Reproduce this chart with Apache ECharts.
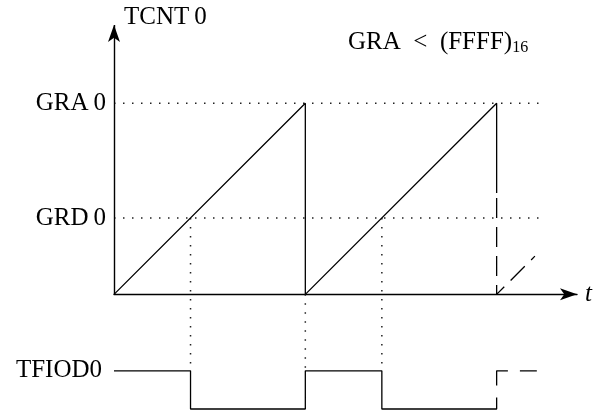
<!DOCTYPE html>
<html>
<head>
<meta charset="utf-8">
<script src="https://cdn.jsdelivr.net/npm/echarts@6/dist/echarts.min.js"></script>
<style>
  html, body { margin: 0; padding: 0; background: #fff; }
  #chart { width: 599px; height: 414px; }
</style>
</head>
<body>
<div id="chart"></div>
<script>
// ---- data (time units on x, counter / signal levels on y) ----
const levelValues = [100, 40, -40];
const levelLabels = ['GRA\u20090', 'GRD\u20090', 'TFIOD0'];
const tcntSolid = [[0, 0], [100, 100], [100, 0], [200, 100], [200, 53]];
const tcntDashed = [[200, 53], [200, 0], [220, 20]];
const guideGRA = [[0, 100], [222, 100]];
const guideGRD = [[0, 40], [222, 40]];
const matchTimes = [40, 100, 140];
const matchFrom = [40, 0, 40];
const matchTo = [-40, -40, -40];
const tfiodSolid = [[0, -40], [40, -40], [40, -60], [100, -60], [100, -40], [140, -40], [140, -60], [200, -60], [200, -54]];
const tfiodDashed = [[200, -54], [200, -40], [221, -40]];
const yTop = 141, yBottom = -60, xEnd = 242;
const axisNameY = 'TCNT\u20090';
const axisNameX = 't';
const noteMain = 'GRA\u2002<\u2002(FFFF)';
const noteSub = '16';

const SERIF = 'Liberation Serif';
const labelMap = {};
levelValues.forEach((v, i) => { labelMap[v] = levelLabels[i]; });

const solid = { color: '#000', width: 1.3, type: 'solid' };
const dotted = { color: '#222', width: 1.5, type: [1.5, 7.5] };

function lineSeries(data, style) {
  return {
    type: 'line', data: data, showSymbol: false, symbol: 'none',
    lineStyle: style, clip: false, silent: true, animation: false, z: 3
  };
}

const series = [
  lineSeries(guideGRA, dotted),
  lineSeries(guideGRD, dotted),
];
matchTimes.forEach((t, i) => {
  series.push(lineSeries([[t, matchFrom[i]], [t, matchTo[i]]], dotted));
});
series.push(lineSeries(tcntSolid, solid));
series.push(lineSeries(tcntDashed, { color: '#000', width: 1.3, type: [20, 9], dashOffset: 24 }));
series.push(lineSeries(tfiodSolid, solid));
series.push(lineSeries(tfiodDashed, { color: '#000', width: 1.3, type: [26, 12], dashOffset: 26 }));
// vertical TCNT0 axis with arrow, drawn in data coordinates
series.push({
  type: 'line', data: [], silent: true, animation: false,
  markLine: {
    silent: true, animation: false,
    symbol: ['none', 'arrow'], symbolSize: [9, 17],
    label: { show: false },
    lineStyle: { color: '#000', width: 1.4, type: 'solid' },
    emphasis: { disabled: true },
    data: [[{ coord: [0, 0] }, { coord: [0, yTop] }]]
  }
});

const chart = echarts.init(document.getElementById('chart'), null, { renderer: 'canvas' });
chart.setOption({
  backgroundColor: '#fff',
  animation: false,
  title: {
    left: 343, top: 23,
    text: '{m|' + noteMain + '}{s|' + noteSub + '}',
    textStyle: {
      fontWeight: 'normal',
      rich: {
        m: { fontFamily: SERIF, fontSize: 25, fontWeight: 'normal', lineHeight: 28, color: '#000' },
        s: { fontFamily: SERIF, fontSize: 16, fontWeight: 'normal', lineHeight: 16, verticalAlign: 'bottom', color: '#000' }
      }
    }
  },
  grid: { left: 114, top: 25, width: 463, height: 384, containLabel: false },
  xAxis: {
    type: 'value', min: 0, max: xEnd,
    name: axisNameX, nameLocation: 'end', nameGap: 8,
    nameTextStyle: { fontFamily: SERIF, fontStyle: 'italic', fontSize: 25, color: '#000', verticalAlign: 'middle' },
    axisLine: { show: true, onZero: true, symbol: ['none', 'arrow'], symbolSize: [9, 17], lineStyle: { color: '#000', width: 1.4 } },
    axisTick: { show: false }, axisLabel: { show: false }, splitLine: { show: false }
  },
  yAxis: {
    type: 'value', min: yBottom, max: yTop, interval: 20,
    name: axisNameY, nameLocation: 'end', nameGap: 8,
    nameTextStyle: { fontFamily: SERIF, fontSize: 25, color: '#000', align: 'left', verticalAlign: 'middle', padding: [0, 0, 0, 10] },
    axisLine: { show: false }, axisTick: { show: false }, splitLine: { show: false },
    axisLabel: {
      show: true, margin: 8, fontFamily: SERIF, fontSize: 25, color: '#000',
      formatter: function (v) {
        const s = labelMap[v] || '';
        return v === -40 ? '{t|' + s + '}' : s;
      },
      rich: { t: { fontFamily: SERIF, fontSize: 25, color: '#000', padding: [0, 4, 0, 0] } }
    }
  },
  series: series
});
</script>
</body>
</html>
